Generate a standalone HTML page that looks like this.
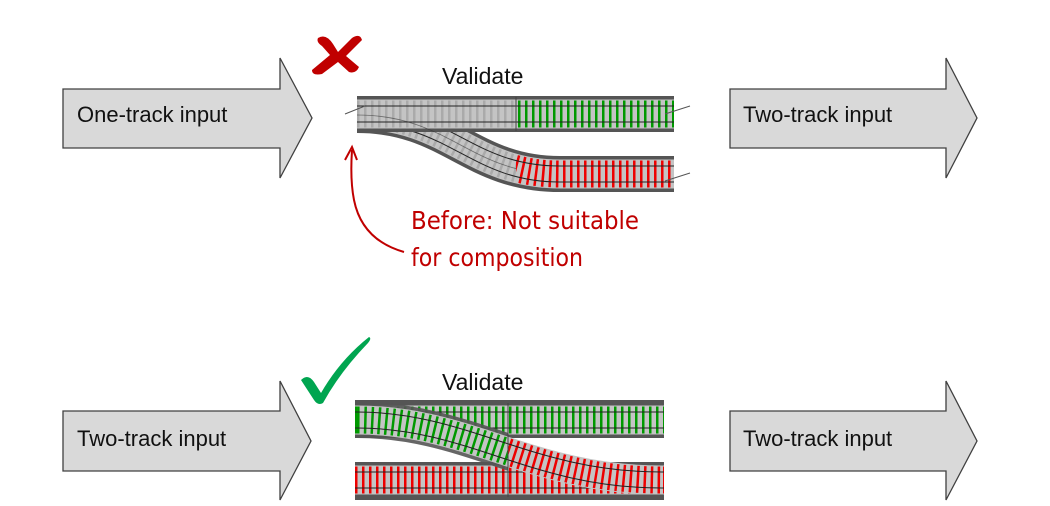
<!DOCTYPE html>
<html><head><meta charset="utf-8"><style>
html,body{margin:0;padding:0;background:#fff;}
svg{display:block;}
</style></head><body>
<svg width="1050" height="506" viewBox="0 0 1050 506" xmlns="http://www.w3.org/2000/svg">
<defs>
<clipPath id="cl1"><rect x="0" y="0" width="516" height="506"/></clipPath>
<clipPath id="cr1"><rect x="516" y="0" width="600" height="506"/></clipPath>
<clipPath id="cl2"><rect x="0" y="0" width="508" height="506"/></clipPath>
<clipPath id="cr2"><rect x="508" y="0" width="600" height="506"/></clipPath>
</defs>

<g fill="#d9d9d9" stroke="#404040" stroke-width="1.3">
<path d="M63,89 H280 V58 L312,118 L280,178 V148 H63 Z"/>
<path d="M730,89 H946 V58 L977,118 L946,178 V148 H730 Z"/>
<path d="M63,411 H280 V381 L311,441 L280,500 V471 H63 Z"/>
<path d="M730,411 H946 V381 L977,441 L946,500 V471 H730 Z"/>
</g>
<g font-family="Liberation Sans, sans-serif" font-size="22" fill="#111">
<text x="77" y="122">One-track input</text>
<text x="743" y="122">Two-track input</text>
<text x="77" y="446">Two-track input</text>
<text x="743" y="446">Two-track input</text>
<text x="442" y="84" font-size="23">Validate</text>
<text x="442" y="390" font-size="23">Validate</text>
</g>

<g fill="none">
  <path d="M357,115 C450,115 470,174 560,174 L674,174" stroke="#555" stroke-width="36"/>
  <path d="M357,115 C450,115 470,174 560,174 L674,174" stroke="#c4c4c4" stroke-width="29"/>
  <path d="M357,115 C450,115 470,174 560,174 L674,174" stroke="#aaa" stroke-width="27" stroke-dasharray="2.5 4.5" clip-path="url(#cl1)"/>
  <path d="M357,115 C450,115 470,174 560,174 L674,174" stroke="#e00" stroke-width="27" stroke-dasharray="2.5 4.5" clip-path="url(#cr1)"/>
  <path d="M357,107 C450,107 470,166 560,166 L674,166" stroke="#222" stroke-width="1"/>
  <path d="M357,123 C450,123 470,182 560,182 L674,182" stroke="#222" stroke-width="1"/>
  <path d="M357,114 H674" stroke="#555" stroke-width="36"/>
  <path d="M357,114 H674" stroke="#c4c4c4" stroke-width="29"/>
  <path d="M357,114 H674" stroke="#aaa" stroke-width="27" stroke-dasharray="2.5 4.5" clip-path="url(#cl1)"/>
  <path d="M518,114 H674" stroke="#090" stroke-width="27" stroke-dasharray="2.5 4.5"/>
  <path d="M357,106 H674 M357,122 H674" stroke="#222" stroke-width="1"/>
  <path d="M357,115 C450,115 470,174 560,174" stroke="#333" stroke-width="0.8" opacity="0.6" clip-path="url(#cl1)"/>
  <path d="M516,97 V131" stroke="#444" stroke-width="1"/>
  <path d="M345,114 L365,106 M665,114 L690,106 M665,181 L690,173" stroke="#555" stroke-width="1"/>
</g>

<g fill="none">
  <path d="M355,420 H664" stroke="#555" stroke-width="36"/>
  <path d="M355,420 H664" stroke="#c4c4c4" stroke-width="29"/>
  <path d="M355,420 H664" stroke="#090" stroke-width="27" stroke-dasharray="2.5 4.5"/>
  <path d="M355,412 H664 M355,428 H664" stroke="#222" stroke-width="1"/>
  <path d="M355,480 H664" stroke="#555" stroke-width="36"/>
  <path d="M355,480 H664" stroke="#c4c4c4" stroke-width="29"/>
  <path d="M355,480 H664" stroke="#e00" stroke-width="27" stroke-dasharray="2.5 4.5"/>
  <path d="M355,472 H664 M355,488 H664" stroke="#222" stroke-width="1"/>
  <path d="M357,420 C470,420 530,480 662,480" stroke="#555" stroke-width="36" clip-path="url(#cl2)" opacity="0.9"/>
  <path d="M357,420 C470,420 530,480 662,480" stroke="#c4c4c4" stroke-width="29"/>
  <path d="M357,420 C470,420 530,480 662,480" stroke="#090" stroke-width="27" stroke-dasharray="2.5 4.5" clip-path="url(#cl2)"/>
  <path d="M357,420 C470,420 530,480 662,480" stroke="#e00" stroke-width="27" stroke-dasharray="2.5 4.5" clip-path="url(#cr2)"/>
  <path d="M357,412 C470,412 530,472 662,472 M357,428 C470,428 530,488 662,488" stroke="#222" stroke-width="1"/>
  <path d="M508,402 V498" stroke="#444" stroke-width="1"/>
  <path d="M355,401.5 H664 M355,498.5 H664" stroke="#555" stroke-width="3"/>
</g>

<g fill="#c00000">
<path d="M318,38 Q326,33 333,44 L338,52 L352,38 Q360,33 362,40 L346,56 L359,67 Q356,74 349,72 L338,62 L322,74 Q312,76 312,70 L330,55 L322,46 Q316,42 318,38 Z"/>
</g>
<path d="M301,380 Q308,373 314,382 L321,393 Q340,360 369,337 Q372,338 368,343 Q340,372 323,403 Q318,406 314,400 Z" fill="#00a550"/>

<path d="M404,252 Q362,240 354,200 Q350,180 352,150" fill="none" stroke="#c00000" stroke-width="2"/>
<path d="M345,160 L352,147 L357,160" fill="none" stroke="#c00000" stroke-width="2"/>
<g font-family="DejaVu Sans Condensed, Liberation Sans Narrow, sans-serif" font-size="25" fill="#c00000">
<text x="411" y="229" textLength="228" lengthAdjust="spacingAndGlyphs">Before: Not suitable</text>
<text x="411" y="266" textLength="172" lengthAdjust="spacingAndGlyphs">for composition</text>
</g>
</svg>
</body></html>
